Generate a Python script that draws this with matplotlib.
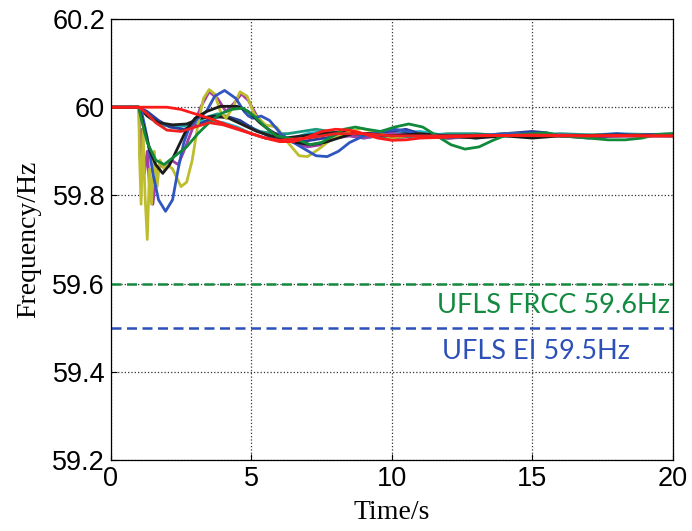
import numpy as np
import matplotlib
matplotlib.use('Agg')
import matplotlib.pyplot as plt

# ------- Данные -------
t_yellow = [0, 1, 1.02, 1.08, 1.15, 1.22, 1.3, 1.38, 1.45, 1.55, 1.65, 1.75, 1.9, 2.0, 2.2, 2.5, 2.7, 2.9,
            3.1, 3.3, 3.5, 3.7, 3.9, 4.1, 4.35, 4.6, 4.85, 5.1, 5.5, 5.9, 6.3, 6.7, 7.0, 7.4, 7.8, 8.3,
            8.9, 9.4, 10, 11, 12, 13, 14, 16, 18, 20]
f_yellow = [60, 60, 59.90, 59.78, 59.95, 59.80, 59.70, 59.86, 59.78, 59.90, 59.82, 59.88, 59.86, 59.87,
            59.86, 59.82, 59.83, 59.88, 59.96, 60.02, 60.04, 60.03, 59.99, 59.975, 60.0, 60.035, 60.025,
            59.985, 59.96, 59.955, 59.92, 59.89, 59.888, 59.905, 59.925, 59.94, 59.952, 59.945, 59.93,
            59.94, 59.93, 59.935, 59.94, 59.935, 59.938, 59.935]

t_magenta = [0, 1, 1.05, 1.12, 1.2, 1.3, 1.4, 1.5, 1.6, 1.75, 1.95, 2.15, 2.4, 2.6, 2.9, 3.2, 3.5, 3.8,
             4.1, 4.4, 4.65, 4.9, 5.2, 5.6, 6, 6.5, 7, 7.5, 8, 8.5, 9, 10, 11, 12, 14, 16, 18, 20]
f_magenta = [60, 60, 59.88, 59.95, 59.85, 59.90, 59.80, 59.78, 59.84, 59.87, 59.86, 59.88, 59.87, 59.90,
             59.95, 60.0, 60.035, 60.02, 59.99, 60.01, 60.03, 60.015, 59.98, 59.95, 59.935, 59.92, 59.91,
             59.915, 59.93, 59.935, 59.93, 59.94, 59.935, 59.93, 59.935, 59.937, 59.934, 59.935]

t_blue = [0, 1, 1.1, 1.3, 1.5, 1.7, 1.95, 2.2, 2.4, 2.6, 2.8, 3.1, 3.4, 3.7, 4.05, 4.45, 4.75, 4.9, 5.05,
          5.35, 5.65, 6.05, 6.5, 6.9, 7.3, 7.7, 8.1, 8.5, 9.0, 9.6, 10.1, 10.6, 11, 12, 13, 14, 15, 16,
          17, 18, 19, 20]
f_blue = [60, 60, 59.99, 59.93, 59.85, 59.79, 59.764, 59.79, 59.86, 59.92, 59.955, 59.975, 59.99, 60.025,
          60.038, 60.02, 59.99, 59.98, 59.975, 59.98, 59.97, 59.94, 59.92, 59.905, 59.89, 59.888, 59.9,
          59.92, 59.935, 59.945, 59.95, 59.945, 59.935, 59.93, 59.935, 59.94, 59.94, 59.935, 59.935,
          59.94, 59.935, 59.935]

t_black = [0, 1, 1.2, 1.4, 1.6, 1.85, 2.1, 2.4, 2.7, 3.0, 3.4, 3.9, 4.5, 4.9, 5.3, 5.7, 6.1, 6.6, 7.1,
           7.6, 8.1, 8.6, 9.1, 10, 11, 12, 13, 14, 15, 16, 18, 20]
f_black = [60, 60, 59.95, 59.90, 59.87, 59.85, 59.87, 59.91, 59.95, 59.975, 59.99, 60.002, 60.002, 59.99,
           59.965, 59.945, 59.93, 59.92, 59.915, 59.92, 59.93, 59.94, 59.94, 59.935, 59.94, 59.935, 59.93,
           59.935, 59.93, 59.935, 59.937, 59.935]

t_black2 = [0, 1, 1.3, 1.7, 2.2, 2.7, 3.2, 3.7, 4.2, 4.7, 5.2, 5.7, 6.2, 6.8, 7.5, 8.5, 9.5, 10.5, 12,
            14, 16, 18, 20]
f_black2 = [60, 60, 59.98, 59.965, 59.96, 59.962, 59.975, 59.98, 59.975, 59.96, 59.945, 59.935, 59.93,
            59.935, 59.94, 59.945, 59.935, 59.94, 59.935, 59.938, 59.935, 59.937, 59.936]

t_green = [0, 1, 1.1, 1.3, 1.6, 1.9, 2.3, 2.7, 3.1, 3.5, 3.9, 4.3, 4.7, 5.1, 5.5, 5.9, 6.3, 6.7, 7.1,
           7.5, 7.9, 8.3, 8.7, 9.1, 9.6, 10.1, 10.6, 11.1, 11.6, 12.1, 12.6, 13.1, 13.6, 14, 15, 15.5, 16,
           17, 17.7, 18.3, 18.9, 19.4, 20]
f_green = [60, 60, 59.97, 59.92, 59.88, 59.87, 59.89, 59.91, 59.94, 59.965, 59.985, 59.995, 59.998,
           59.98, 59.955, 59.935, 59.93, 59.925, 59.915, 59.92, 59.935, 59.95, 59.955, 59.95, 59.945,
           59.955, 59.962, 59.955, 59.935, 59.915, 59.905, 59.91, 59.925, 59.935, 59.94, 59.942, 59.935,
           59.93, 59.926, 59.926, 59.93, 59.938, 59.94]

t_cyan = [0, 1, 1.3, 1.6, 2, 2.5, 3, 3.5, 4, 4.5, 5, 5.5, 6, 6.5, 7, 7.5, 8, 8.5, 9, 10, 11, 12, 13,
          14, 15, 16, 17, 18, 20]
f_cyan = [60, 60, 59.985, 59.97, 59.96, 59.958, 59.965, 59.97, 59.965, 59.955, 59.94, 59.93, 59.925,
          59.93, 59.94, 59.945, 59.94, 59.935, 59.93, 59.94, 59.945, 59.935, 59.93, 59.94, 59.94,
          59.935, 59.937, 59.94, 59.937]

t_navy = [0, 1, 1.3, 1.7, 2.1, 2.6, 3.1, 3.6, 4.1, 4.6, 5.1, 5.6, 6.1, 6.6, 7.1, 7.6, 8.1, 9, 10, 10.5,
          11, 12, 13, 14, 15, 15.5, 16, 17, 18, 19, 20]
f_navy = [60, 60, 59.99, 59.97, 59.955, 59.95, 59.96, 59.975, 59.98, 59.97, 59.95, 59.935, 59.925,
          59.92, 59.925, 59.93, 59.935, 59.94, 59.945, 59.95, 59.94, 59.93, 59.935, 59.94, 59.945,
          59.942, 59.935, 59.93, 59.935, 59.938, 59.937]

t_teal = [0, 1, 1.4, 1.8, 2.3, 2.8, 3.3, 3.8, 4.3, 4.8, 5.3, 5.8, 6.3, 6.8, 7.3, 7.8, 8.3, 9, 10, 11,
          12, 13, 14, 16, 18, 20]
f_teal = [60, 60, 59.975, 59.96, 59.955, 59.96, 59.975, 59.985, 59.975, 59.96, 59.945, 59.94, 59.94,
          59.945, 59.95, 59.945, 59.94, 59.935, 59.93, 59.935, 59.94, 59.94, 59.935, 59.94, 59.935, 59.94]

t_red2 = [0, 1, 1.3, 1.6, 2, 2.5, 3, 3.5, 4, 4.5, 5, 5.5, 6, 7, 8, 9, 10, 12, 14, 16, 18, 20]
f_red2 = [60, 60, 59.985, 59.965, 59.948, 59.945, 59.955, 59.965, 59.96, 59.95, 59.94, 59.93, 59.925,
          59.93, 59.94, 59.94, 59.935, 59.935, 59.936, 59.935, 59.935, 59.935]

t_red = [0, 1, 2, 2.5, 3, 3.5, 4, 4.5, 5, 5.5, 6, 6.5, 7, 7.5, 8, 8.5, 9, 9.5, 10, 10.5, 11, 12, 13,
         14, 15, 16, 17, 18, 19, 20]
f_red = [60, 60, 60, 59.995, 59.985, 59.975, 59.963, 59.952, 59.94, 59.93, 59.922, 59.922, 59.932,
         59.945, 59.95, 59.948, 59.94, 59.93, 59.925, 59.926, 59.93, 59.932, 59.935, 59.936, 59.937,
         59.936, 59.935, 59.936, 59.935, 59.935]

ufls_frcc = 59.6
ufls_ei = 59.5
# ------- /


# ------- График -------
fig = plt.figure(figsize=(6.92, 5.31), dpi=100)
ax = fig.add_axes([0.160, 0.1337, 0.8125, 0.8305])

traces = [
    (t_teal, f_teal, '#1a9a80'),
    (t_cyan, f_cyan, '#1eb4cc'),
    (t_navy, f_navy, '#2a3f9a'),
    (t_black2, f_black2, '#202020'),
    (t_magenta, f_magenta, '#a43ca8'),
    (t_yellow, f_yellow, '#bdbd2e'),
    (t_blue, f_blue, '#2f55c0'),
    (t_black, f_black, '#1a1a1a'),
    (t_green, f_green, '#108a3a'),
    (t_red2, f_red2, '#ee2020'),
    (t_red, f_red, '#ff1a1a'),
]
for t, f, c in traces:
    ax.plot(t, f, color=c, lw=2.0, solid_joinstyle='round')

# пороги UFLS
ax.axhline(ufls_frcc, color='#138a40', lw=1.8, ls=(0, (4, 2.2)))
ax.axhline(ufls_ei, color='#2c50b8', lw=1.8, ls=(0, (4, 2.2)))
ax.text(11.6, 59.55, 'UFLS FRCC 59.6Hz', color='#138a40', fontsize=19.5, family='Lato',
        ha='left', va='center')
ax.text(11.78, 59.445, 'UFLS EI 59.5Hz', color='#2c50b8', fontsize=19.5, family='Lato',
        ha='left', va='center')

ax.set_xlim(0, 20)
ax.set_ylim(59.2, 60.2)
ax.set_xticks([0, 5, 10, 15, 20])
ax.set_yticks([59.2, 59.4, 59.6, 59.8, 60.0, 60.2])
ax.set_yticklabels(['59.2', '59.4', '59.6', '59.8', '60', '60.2'])
ax.tick_params(direction='in', length=4, labelsize=19.5, pad=4)
for lab in ax.get_xticklabels() + ax.get_yticklabels():
    lab.set_family('Liberation Sans')
ax.grid(True, ls=':', color='#333333', lw=0.9)
ax.set_axisbelow(True)
for s in ax.spines.values():
    s.set_linewidth(0.9)

ax.set_xlabel('Time/s', family='Liberation Serif', fontsize=20, labelpad=6)
ax.set_ylabel('Frequency/Hz', family='Liberation Serif', fontsize=20, labelpad=8)
# ------- /

fig.savefig('out.png', dpi=100)
